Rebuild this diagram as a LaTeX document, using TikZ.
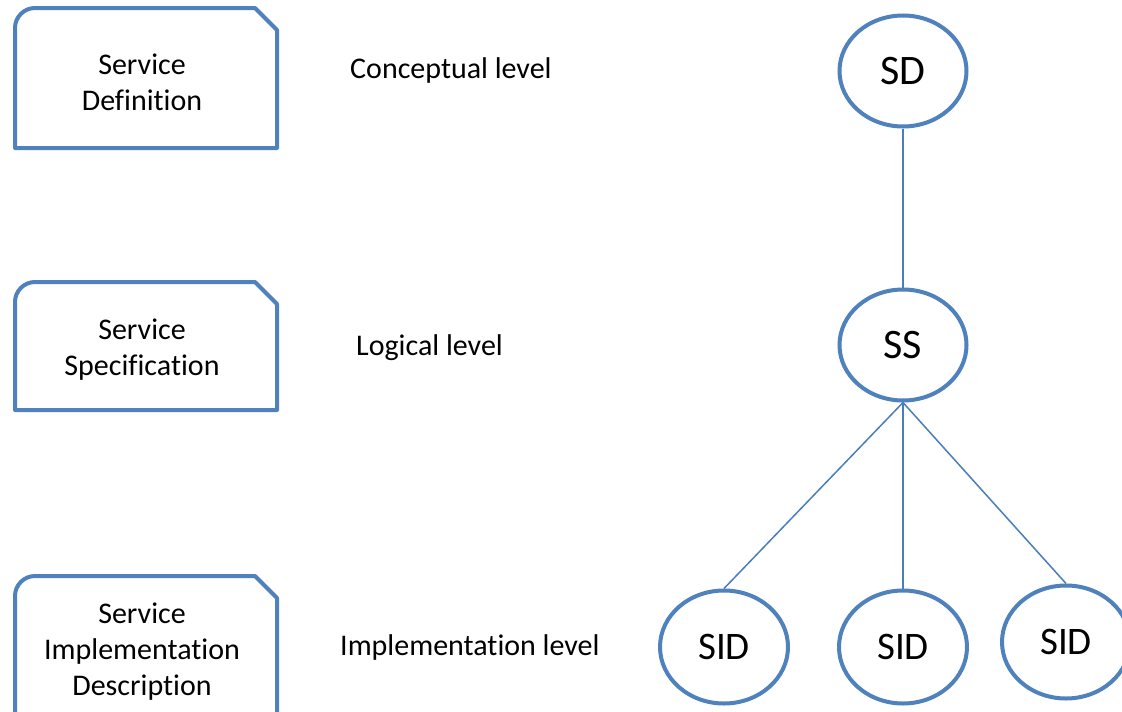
\documentclass[tikz,border=0pt]{standalone}
\usepackage{fontspec}
\setmainfont[Ligatures=NoCommon]{Carlito}
\usetikzlibrary{shapes.geometric}
\definecolor{obl}{RGB}{79,129,189}
\definecolor{lbl}{RGB}{74,126,187}
\tikzset{
  lvl/.style={anchor=base west, inner sep=0pt, font=\fontsize{30}{36}\selectfont},
  boxtext/.style={align=center, inner sep=0pt, font=\fontsize{30}{36}\selectfont},
  boxline/.style={draw=obl, line width=4pt, line join=round},
  bub/.style={ellipse, draw=obl, line width=4pt, fill=white, inner sep=0pt, minimum width=127pt, minimum height=111pt, font=\fontsize{42}{48}\selectfont},
  subbub/.style={bub, minimum width=128pt, minimum height=113pt, font=\fontsize{39}{44}\selectfont},
  conn/.style={draw=lbl, line width=1.5pt}
}
\begin{document}
\begin{tikzpicture}[x=1pt,y=-1pt]
\useasboundingbox (0,0) rectangle (1122,712);
\fill[white] (0,0) rectangle (1122,712);
% boxes
\draw[boxline] (15,148) -- (15,28) .. controls (15,17) and (24,8) .. (35,8) -- (255,8) -- (277,30) -- (277,148) -- cycle;
\draw[boxline] (15,410) -- (15,302) .. controls (15,291) and (24,282) .. (35,282) -- (255,282) -- (277,304) -- (277,410) -- cycle;
\draw[boxline] (15,730) -- (15,596) .. controls (15,585) and (24,576) .. (35,576) -- (255,576) -- (277,598) -- (277,730) -- cycle;
\node[boxtext] (bsd) at (142,82) {Service\\Definition};
\node[boxtext] (bss) at (142,350) {Service\\Specification};
\node[boxtext] (bsid) at (142,652) {Service\\Implementation\\Description};
% level labels
\node[lvl] (l1) at (350,78) {Conceptual level};
\node[lvl] (l2) at (356,355) {Logical level};
\node[lvl] (l3) at (340,655) {Implementation level};
% bubbles
\node[bub] (sd) at (903,71) {SD};
\node[bub] (ss) at (903,345) {SS};
\node[subbub] (sid1) at (724,647) {SID};
\node[subbub] (sid2) at (903,647) {SID};
\node[subbub] (sid3) at (1066,642) {SID};
% connectors
\draw[conn] (sd.south) -- (ss.north);
\draw[conn] (ss.south) -- (sid1.north);
\draw[conn] (ss.south) -- (sid2.north);
\draw[conn] (ss.south) -- (sid3.north);
\end{tikzpicture}
\end{document}
